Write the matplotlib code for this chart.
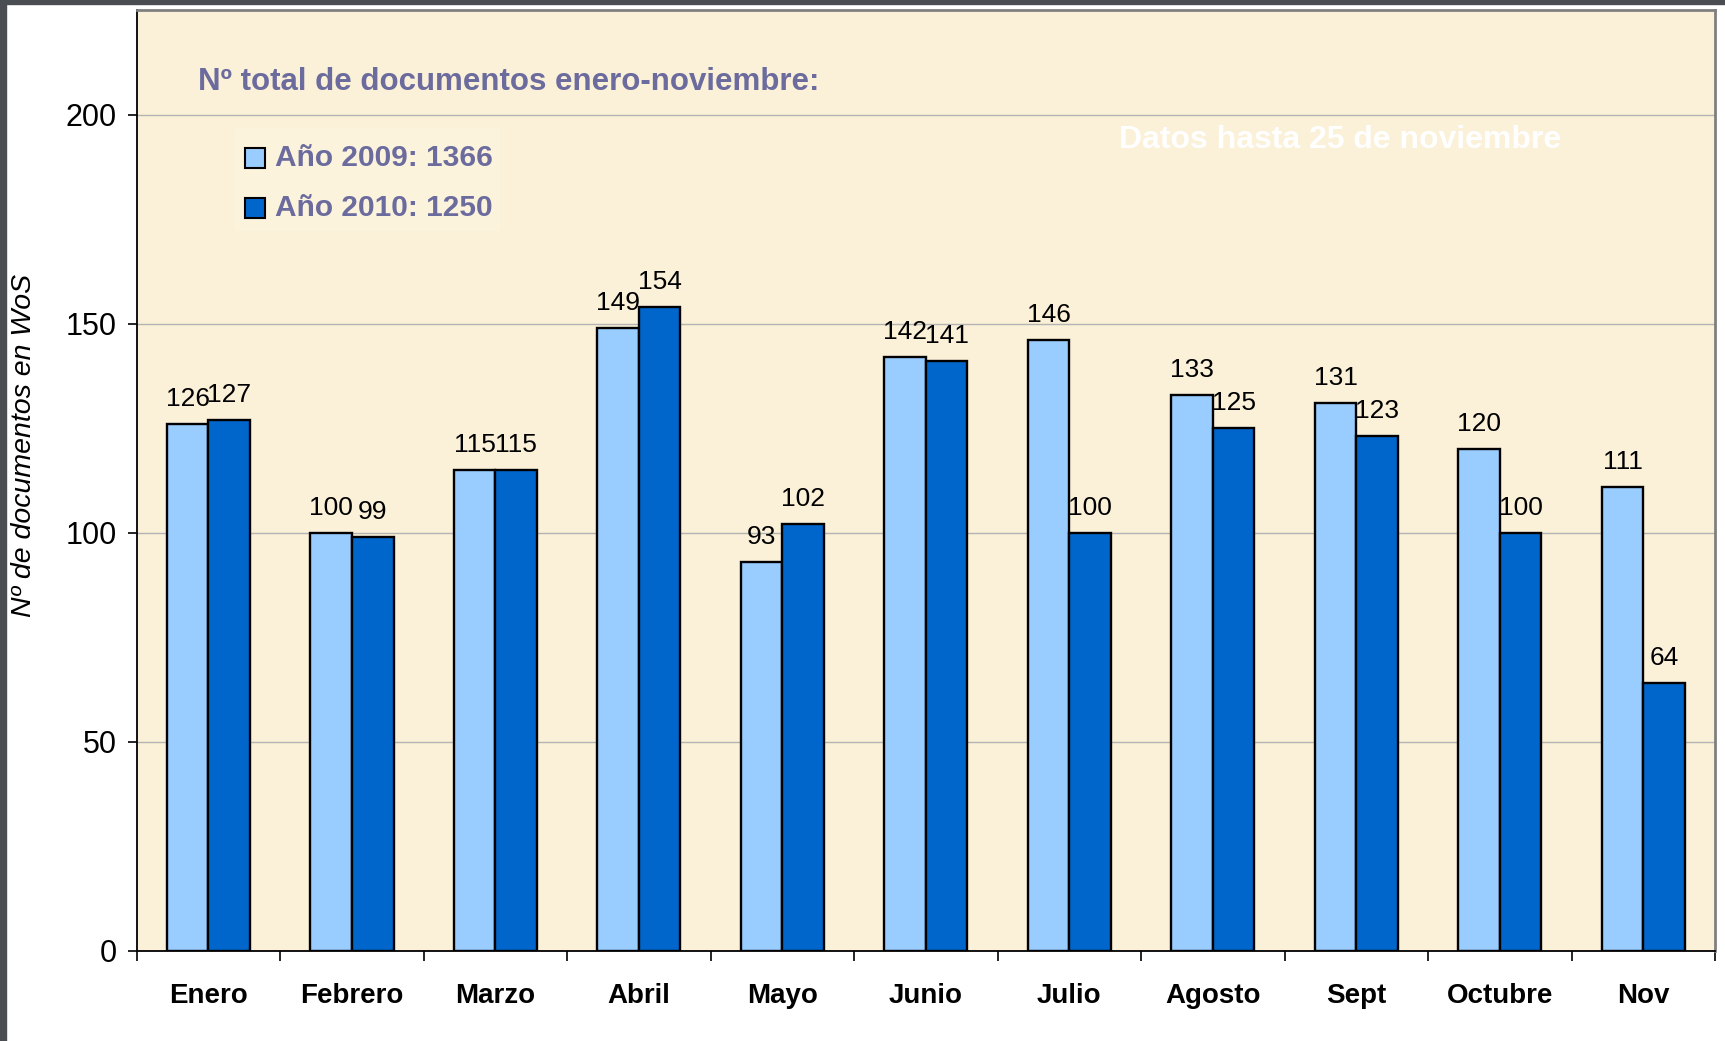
import numpy as np
import matplotlib
matplotlib.use("Agg")
import matplotlib.pyplot as plt
from matplotlib.patches import Rectangle

plt.rcParams['font.family'] = ['Liberation Sans', 'DejaVu Sans']

# datos
meses = ['Enero', 'Febrero', 'Marzo', 'Abril', 'Mayo', 'Junio', 'Julio',
         'Agosto', 'Sept', 'Octubre', 'Nov']
docs_2009 = [126, 100, 115, 149, 93, 142, 146, 133, 131, 120, 111]
docs_2010 = [127, 99, 115, 154, 102, 141, 100, 125, 123, 100, 64]
yticks = [0, 50, 100, 150, 200]

W, H = 1725, 1041
fig = plt.figure(figsize=(W / 100, H / 100), dpi=100)
fig.patch.set_facecolor('white')

# marco oscuro de la captura
fig.add_artist(Rectangle((0, 0), 6 / W, 1, transform=fig.transFigure,
                         color='#4a4d52', zorder=0))
fig.add_artist(Rectangle((0, 1 - 4 / H), 1, 4 / H, transform=fig.transFigure,
                         color='#4a4d52', zorder=0))

ax = fig.add_axes([136.7 / W, 90.3 / H, (1715 - 136.7) / W, (950.7 - 10) / H])
ax.set_facecolor('#fbf0d8')

x = np.arange(len(meses))
w = 0.29
b1 = ax.bar(x - w / 2, docs_2009, w, color='#99ccff', edgecolor='black',
            linewidth=1.7, zorder=3)
b2 = ax.bar(x + w / 2, docs_2010, w, color='#0066cc', edgecolor='black',
            linewidth=1.7, zorder=3)

for bars, vals in ((b1, docs_2009), (b2, docs_2010)):
    for r, v in zip(bars, vals):
        ax.annotate(str(v), (r.get_x() + r.get_width() / 2, v),
                    xytext=(0, 13), textcoords='offset points',
                    ha='center', va='baseline', fontsize=19, zorder=4)

ax.set_xlim(-0.5, len(meses) - 0.5)
ax.set_ylim(0, 225)
ax.set_yticks(yticks)
ax.tick_params(axis='y', direction='out', length=6.5, width=1.2,
               labelsize=22, pad=8)
ax.yaxis.grid(True, color='#b4b4b4', linewidth=1, zorder=1)

ax.set_xticks(x)
ax.set_xticklabels(meses, fontsize=20, fontweight='bold')
ax.tick_params(axis='x', which='major', length=0, pad=23)
ax.set_xticks(np.arange(-0.5, len(meses)), minor=True)
ax.tick_params(axis='x', which='minor', direction='out', length=7, width=1.2)

for s in ('left', 'bottom'):
    ax.spines[s].set_color('black')
    ax.spines[s].set_linewidth(1.3)
for s in ('top', 'right'):
    ax.spines[s].set_color('#808080')
    ax.spines[s].set_linewidth(2)

fig.text(24 / W, 1 - 445 / H, 'Nº de documentos en WoS', rotation=90,
         style='italic', fontsize=20.5, ha='center', va='center')

# textos dentro del grafico
col = '#6b6b9e'
fig.text(198 / W, 1 - 82 / H, 'Nº total de documentos enero-noviembre:',
         color=col, fontsize=22.5, fontweight='bold', ha='left', va='center')
fig.text(1340 / W, 1 - 140 / H, 'Datos hasta 25 de noviembre',
         color='white', fontsize=23, fontweight='bold', ha='center', va='center')

# leyenda
fig.add_artist(Rectangle((235 / W, 1 - 230 / H), 264 / W, 102 / H,
                         transform=fig.transFigure, color='#fcf3dd', zorder=2))
for yc, c, lab in ((158, '#99ccff', 'Año 2009: 1366'),
                   (208, '#0066cc', 'Año 2010: 1250')):
    fig.add_artist(Rectangle((245 / W, 1 - (yc + 10) / H), 20 / W, 20 / H,
                             transform=fig.transFigure, facecolor=c,
                             edgecolor='black', linewidth=1.5, zorder=3))
    fig.text(275 / W, 1 - yc / H, lab, color=col, fontsize=21.5,
             fontweight='bold', ha='left', va='center', zorder=3)

fig.savefig('out.png', dpi=100)
